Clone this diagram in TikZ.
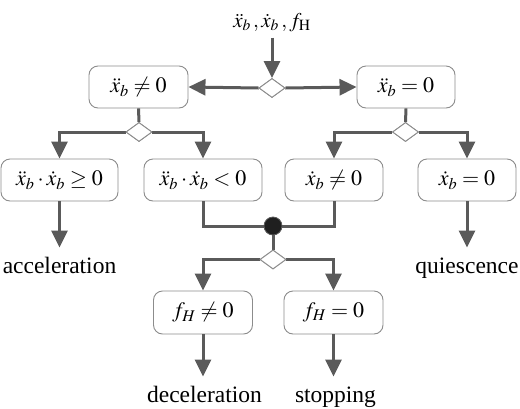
\documentclass[tikz,border=0pt]{standalone}
\usepackage{mathptmx}
\usepackage{fontspec}
\setmainfont{Liberation Serif}
\usetikzlibrary{shapes.geometric,arrows.meta}
\definecolor{linec}{HTML}{5A5A5A}
\definecolor{boxc}{HTML}{8C8C8C}
\tikzset{
  box/.style={draw=boxc,line width=0.9pt,rounded corners=9pt,fill=white,
    minimum height=42pt,inner sep=0pt,font=\fontsize{22}{26}\selectfont},
  dia/.style={shape=diamond,draw=boxc,line width=0.9pt,fill=white,aspect=1.37,
    inner sep=0pt,minimum width=26pt,minimum height=19pt},
  lbl/.style={anchor=base,inner xsep=0pt,inner ysep=9pt,font=\fontsize{23.5}{28}\selectfont},
  conn/.style={draw=linec,line width=3pt},
  arr/.style={conn,-{Triangle[length=17pt,width=16pt]}}
}
\begin{document}
\begin{tikzpicture}[x=1pt,y=-1pt]
\useasboundingbox (0,0) rectangle (520,408);
% nodes
\node[anchor=base,inner ysep=6pt,font=\fontsize{21}{25}\selectfont] (in) at (272,27) {$\ddot{x}_b\,,\dot{x}_b\,, f_{\mathrm{H}}$};
\node[dia] (d1) at (272,88) {};
\node[box,minimum width=99pt] (A) at (138.5,87) {$\ddot{x}_b \neq 0$};
\node[box,minimum width=98pt] (B) at (406,87) {$\ddot{x}_b = 0$};
\node[dia] (d2) at (139,132) {};
\node[dia] (d3) at (405.5,132) {};
\node[box,minimum width=117pt] (C) at (59.5,180) {$\ddot{x}_b\cdot\dot{x}_b \geq 0$};
\node[box,minimum width=118pt] (D) at (203,180) {$\ddot{x}_b\cdot\dot{x}_b < 0$};
\node[box,minimum width=98pt] (E) at (334,180) {$\dot{x}_b \neq 0$};
\node[box,minimum width=98pt] (F) at (467,180) {$\dot{x}_b = 0$};
\node[circle,fill=black!88,draw=linec,line width=0.8pt,minimum size=18pt,inner sep=0pt] (dot) at (273,226) {};
\node[dia] (d4) at (273,259.5) {};
\node[box,minimum width=99pt,minimum height=43pt] (G) at (203,312.5) {$f_H \neq 0$};
\node[box,minimum width=99pt,minimum height=43pt] (H) at (333.5,312.5) {$f_H = 0$};
\node[lbl] (acc) at (59.5,273) {acceleration};
\node[lbl] (qui) at (467,273) {quiescence};
\node[lbl] (dec) at (204.5,402) {deceleration};
\node[lbl] (stp) at (335.5,402) {stopping};
% connectors
\draw[arr] (in.south) -- (d1.north);
\draw[arr] (d1.west) -- (A.east);
\draw[arr] (d1.east) -- (B.west);
\draw[conn] (A.south) -- (d2.north);
\draw[conn] (B.south) -- (d3.north);
\draw[arr] (d2.west) -| (C.north);
\draw[arr] (d2.east) -| (D.north);
\draw[arr] (d3.west) -| (E.north);
\draw[arr] (d3.east) -| (F.north);
\draw[arr] (C.south) -- (acc.north);
\draw[arr] (F.south) -- (F.south |- acc.north);
\draw[conn] (D.south) |- (dot.west);
\draw[conn] (E.south) |- (dot.east);
\draw[conn] (dot.south) -- (d4.north);
\draw[arr] (d4.west) -| (G.north);
\draw[arr] (d4.east) -| (H.north);
\draw[arr] (G.south) -- (G.south |- dec.north);
\draw[arr] (H.south) -- (H.south |- dec.north);
% redraw diamonds on top
\node[dia] at (d1) {};
\node[dia] at (d2) {};
\node[dia] at (d3) {};
\node[dia] at (d4) {};
\end{tikzpicture}
\end{document}
